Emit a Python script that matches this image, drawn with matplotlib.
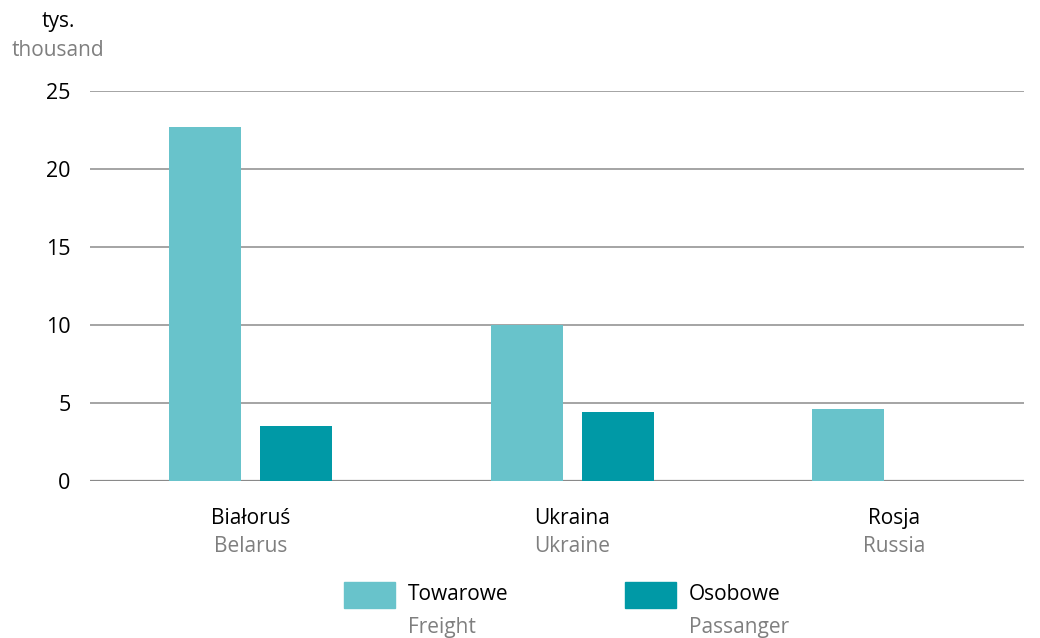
import matplotlib
matplotlib.use("Agg")
import numpy as np
import matplotlib.pyplot as plt
from matplotlib.patches import Rectangle
from matplotlib.transforms import blended_transform_factory

# categories (Polish / English)
countries_pl = ["Białoruś", "Ukraina", "Rosja"]
countries_en = ["Belarus", "Ukraine", "Russia"]
# thousand
freight = [22.7, 10.0, 4.6]
passenger = [3.5, 4.4, 0.0]
series_pl = ["Towarowe", "Osobowe"]
series_en = ["Freight", "Passanger"]
y_ticks = [0, 5, 10, 15, 20, 25]

c_freight = "#68C3CB"
c_pass = "#0099A6"
c_gray = "#7f7f7f"

plt.rcParams['font.family'] = ['Open Sans', 'DejaVu Sans']

W, H = 1040, 638
fig = plt.figure(figsize=(W / 100, H / 100), dpi=100)
ax = fig.add_axes([90 / W, 1 - 481 / H, (1024 - 90) / W, (481 - 91) / H])

x = np.arange(len(countries_pl))
width = 0.224
off = 0.1415
ax.bar(x - off, freight, width, color=c_freight, zorder=3)
# skip zero-height bars
pv = np.array(passenger)
mask = pv > 0
ax.bar(x[mask] + off, pv[mask], width, color=c_pass, zorder=3)

ax.set_xlim(-0.5, 2.405)
ax.set_ylim(0, 25)
ax.set_yticks(y_ticks)
ax.set_yticklabels([str(t) for t in y_ticks], fontsize=15.5)
ax.tick_params(axis="y", length=0, pad=14)
ax.set_xticks([])
for s in ax.spines.values():
    s.set_visible(False)
for t in y_ticks:
    ax.axhline(t, color="#959595" if t else "#8a8a8a", lw=1.2 if t else 1.6, zorder=1)

# category labels
tr = blended_transform_factory(ax.transData, ax.transAxes)
for i in range(len(countries_pl)):
    ax.text(i, -0.097, countries_pl[i], transform=tr, ha="center", va="center",
            fontsize=15, color="black")
    ax.text(i, -0.168, countries_en[i], transform=tr, ha="center", va="center",
            fontsize=15, color=c_gray)

# unit labels
fig.text(58 / W, 1 - 22 / H, "tys.", ha="center", va="center", fontsize=15, color="black")
fig.text(58 / W, 1 - 50 / H, "thousand", ha="center", va="center", fontsize=15, color=c_gray)

# legend
for px, col, lp, le in [(344, c_freight, series_pl[0], series_en[0]),
                        (625, c_pass, series_pl[1], series_en[1])]:
    fig.patches.append(Rectangle((px / W, 1 - 608 / H), 51 / W, 26 / H,
                                 transform=fig.transFigure, color=col))
    fig.text((px + 64) / W, 1 - 595 / H, lp, ha="left", va="center", fontsize=15, color="black")
    fig.text((px + 64) / W, 1 - 628 / H, le, ha="left", va="center", fontsize=15, color=c_gray)

fig.savefig("out.png", dpi=100)
